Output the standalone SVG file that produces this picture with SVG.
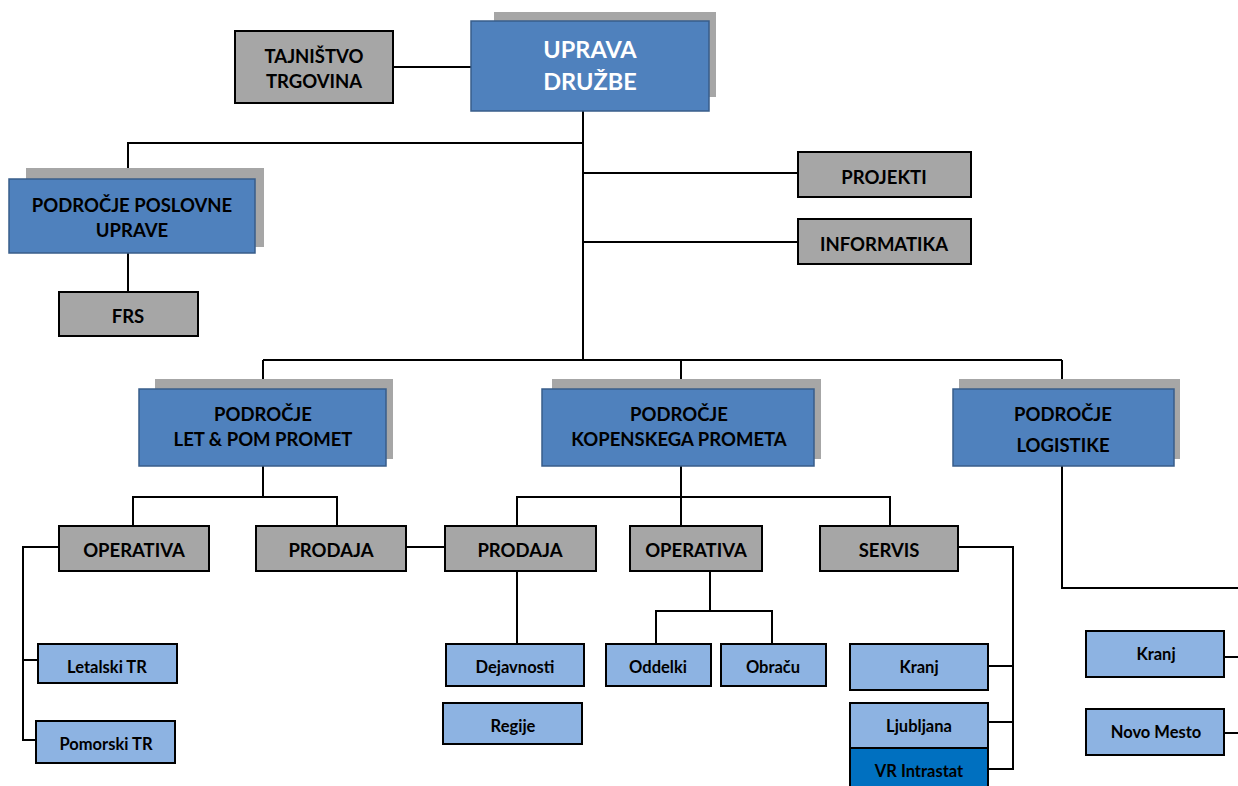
<svg xmlns="http://www.w3.org/2000/svg" width="1238" height="786" viewBox="0 0 1238 786">
<style>
text{font-family:Lato,"Liberation Sans","DejaVu Sans",sans-serif;font-weight:bold;text-anchor:middle;fill:#000}
.shadow{fill:#A6A6A6;stroke:none}
.main{fill:#4F81BD;stroke:#385D8A;stroke-width:1.5}
.gray{fill:#A6A6A6;stroke:#000;stroke-width:2}
.light{fill:#8DB3E2;stroke:#000;stroke-width:2}
.dark{fill:#0070C0;stroke:#000;stroke-width:2}
.t1{font-size:23.5px;fill:#fff}
.t2{font-size:18.5px}
.t3{font-size:16.5px}
.conn path{fill:none;stroke:#000;stroke-width:2}
</style>
<rect width="1238" height="786" fill="#fff"/>
<g id="connectors" class="conn">
<path d="M393 67H471"/>
<path d="M583 111V360"/>
<path d="M583 143H128V179"/>
<path d="M583 173H798"/>
<path d="M583 242H798"/>
<path d="M128 253V292"/>
<path d="M263 360H1062"/>
<path d="M263 360V389"/>
<path d="M681 360V389"/>
<path d="M1062 360V389"/>
<path d="M263 466V497"/>
<path d="M133 526V497H337V526"/>
<path d="M59 547H23V740H36"/>
<path d="M23 660H38"/>
<path d="M406 547H445"/>
<path d="M681 466V526"/>
<path d="M517 526V497H890V526"/>
<path d="M517 571V644"/>
<path d="M710 571V611"/>
<path d="M656 644V611H772V644"/>
<path d="M958 547H1013V769H988"/>
<path d="M988 666H1013"/>
<path d="M988 722H1013"/>
<path d="M1062 466V588H1238"/>
<path d="M1224 657H1238"/>
<path d="M1224 733H1238"/>
</g>
<g id="uprava">
<rect class="shadow" x="494" y="12" width="222" height="85"/>
<rect class="main" x="471" y="21" width="238" height="90"/>
<text class="t1" x="590" y="58">UPRAVA</text>
<text class="t1" x="590" y="90">DRUŽBE</text>
</g>
<g id="tajnistvo">
<rect class="gray" x="235" y="31" width="158" height="72"/>
<text class="t2" x="314" y="63">TAJNIŠTVO</text>
<text class="t2" x="314" y="88">TRGOVINA</text>
</g>
<g id="poslovne">
<rect class="shadow" x="26" y="168" width="238" height="79"/>
<rect class="main" x="9" y="179" width="246" height="74"/>
<text class="t2" x="132" y="212">PODROČJE POSLOVNE</text>
<text class="t2" x="132" y="237">UPRAVE</text>
</g>
<g id="frs">
<rect class="gray" x="59" y="292" width="139" height="44"/>
<text class="t2" x="128" y="323">FRS</text>
</g>
<g id="projekti">
<rect class="gray" x="798" y="152" width="173" height="45"/>
<text class="t2" x="884" y="184">PROJEKTI</text>
</g>
<g id="informatika">
<rect class="gray" x="798" y="219" width="173" height="45"/>
<text class="t2" x="884" y="251">INFORMATIKA</text>
</g>
<g id="letpom">
<rect class="shadow" x="155" y="379" width="238" height="80"/>
<rect class="main" x="139" y="389" width="247" height="77"/>
<text class="t2" x="263" y="421">PODROČJE</text>
<text class="t2" x="263" y="446">LET &amp; POM PROMET</text>
</g>
<g id="kopenski">
<rect class="shadow" x="552" y="379" width="269" height="80"/>
<rect class="main" x="542" y="389" width="272" height="77"/>
<text class="t2" x="679" y="421">PODROČJE</text>
<text class="t2" x="679" y="446">KOPENSKEGA PROMETA</text>
</g>
<g id="logistika">
<rect class="shadow" x="959" y="379" width="221" height="80"/>
<rect class="main" x="953" y="389" width="221" height="77"/>
<text class="t2" x="1063" y="421">PODROČJE</text>
<text class="t2" x="1063" y="452">LOGISTIKE</text>
</g>
<g id="operativa1">
<rect class="gray" x="59" y="526" width="150" height="45"/>
<text class="t2" x="134" y="557">OPERATIVA</text>
</g>
<g id="prodaja1">
<rect class="gray" x="256" y="526" width="150" height="45"/>
<text class="t2" x="331" y="557">PRODAJA</text>
</g>
<g id="prodaja2">
<rect class="gray" x="445" y="526" width="151" height="45"/>
<text class="t2" x="520" y="557">PRODAJA</text>
</g>
<g id="operativa2">
<rect class="gray" x="630" y="526" width="132" height="45"/>
<text class="t2" x="696" y="557">OPERATIVA</text>
</g>
<g id="servis">
<rect class="gray" x="820" y="526" width="138" height="45"/>
<text class="t2" x="889" y="557">SERVIS</text>
</g>
<g id="letalski">
<rect class="light" x="38" y="644" width="139" height="39"/>
<text class="t3" x="107" y="673">Letalski TR</text>
</g>
<g id="pomorski">
<rect class="light" x="36" y="721" width="139" height="42"/>
<text class="t3" x="106" y="750">Pomorski TR</text>
</g>
<g id="dejavnosti">
<rect class="light" x="446" y="644" width="138" height="42"/>
<text class="t3" x="515" y="673">Dejavnosti</text>
</g>
<g id="regije">
<rect class="light" x="443" y="703" width="139" height="41"/>
<text class="t3" x="513" y="732">Regije</text>
</g>
<g id="oddelki">
<rect class="light" x="606" y="644" width="105" height="42"/>
<text class="t3" x="658" y="673">Oddelki</text>
</g>
<g id="obracu">
<rect class="light" x="721" y="644" width="105" height="42"/>
<text class="t3" x="773" y="673">Obraču</text>
</g>
<g id="kranj1">
<rect class="light" x="850" y="644" width="138" height="46"/>
<text class="t3" x="919" y="673">Kranj</text>
</g>
<g id="ljubljana">
<rect class="light" x="850" y="703" width="138" height="45"/>
<text class="t3" x="919" y="732">Ljubljana</text>
</g>
<g id="intrastat">
<rect class="dark" x="850" y="748" width="138" height="45"/>
<text class="t3" x="919" y="777">VR Intrastat</text>
</g>
<g id="kranj2">
<rect class="light" x="1086" y="631" width="138" height="46"/>
<text class="t3" x="1156" y="660">Kranj</text>
</g>
<g id="novomesto">
<rect class="light" x="1086" y="709" width="138" height="46"/>
<text class="t3" x="1156" y="738">Novo Mesto</text>
</g>
</svg>
